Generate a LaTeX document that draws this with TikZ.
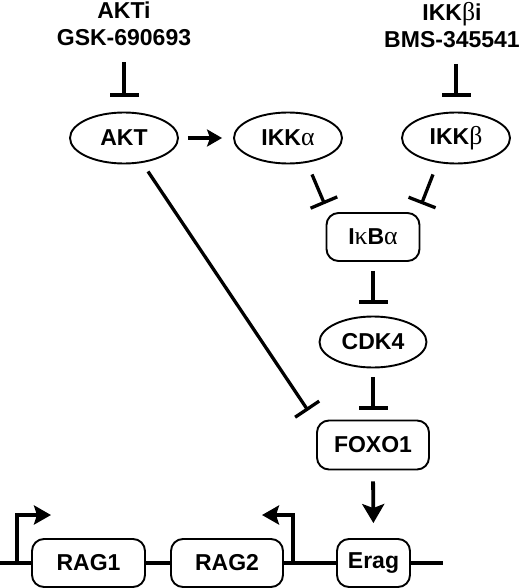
\documentclass[tikz,border=0pt]{standalone}
\usepackage{fontspec}
\setmainfont{Liberation Sans}
\newfontfamily\grk[Scale=1.12]{Liberation Serif}
\usetikzlibrary{arrows.meta,shapes.geometric,calc}
\newcommand{\gr}[1]{{\grk\mdseries #1}}
\begin{document}
\begin{tikzpicture}[x=1pt,y=-1pt,
  every node/.style={font=\fontsize{23}{27}\selectfont\bfseries, inner sep=0pt},
  oval/.style={ellipse, draw, line width=1.9pt, minimum width=108pt, minimum height=51pt},
  rbox/.style={draw, line width=1.9pt, rounded corners=12pt, minimum height=48pt},
  inh/.style={line width=3.3pt, -{Bar[width=29pt,line width=3.3pt]}},
  act/.style={line width=3.6pt, -{Stealth[length=15pt,width=17pt,inset=3pt]}},
  bigact/.style={line width=3.8pt, -{Stealth[length=19pt,width=22pt,inset=4pt]}},
  dna/.style={line width=3.6pt},
  prom/.style={line width=3.6pt, -{Stealth[length=17pt,width=19pt,inset=3pt]}}
]
\path[use as bounding box] (0,0) rectangle (520,588);

\node[align=center, anchor=north] (akti) at (124,2) {AKTi\\GSK-690693};
\node[align=center, anchor=north] (ikkbi) at (452,2) {IKK\gr{β}i\\BMS-345541};

\node[oval] (akt) at (124,138) {AKT};
\node[oval] (ikka) at (288,138) {IKK\gr{α}};
\node[oval] (ikkb) at (456,138) {IKK\gr{β}};

\node[rbox, minimum width=93pt] (ikba) at (373,237) {I\gr{κ}B\gr{α}};
\node[oval, minimum width=107pt] (cdk) at (373,342) {CDK4};
\node[rbox, minimum width=112pt, minimum height=49pt] (foxo) at (373,445) {FOXO1};

\node[rbox, minimum width=113pt] (rag1) at (88.5,563) {RAG1};
\node[rbox, minimum width=112pt] (rag2) at (227,563) {RAG2};
\node[rbox, minimum width=73pt] (erag) at (373.5,563) {Erag};

\coordinate (dl) at (0,563);
\coordinate (dr) at (443,563);
\coordinate (p1) at (17,563);
\coordinate (p1t) at (17,515);
\coordinate (p1e) at (51,515);
\coordinate (p2) at (293,563);
\coordinate (p2t) at (293,515);
\coordinate (p2e) at (262,515);

% inhibitors from drugs
\draw[inh, shorten <=16pt, shorten >=15pt] (akti.south -| akt.north) -- (akt.north);
\draw[inh, shorten <=16pt, shorten >=15pt] (ikkbi.south -| ikkb.north) -- (ikkb.north);

% AKT -> IKKa
\draw[act, shorten <=9pt, shorten >=11pt] (akt.east) -- (ikka.west);

% IKKa, IKKb -| IkBa
\draw[inh] ($(ikka.south)+(24,10)$) -- ($(ikba.north west)+(-1,-8)$);
\draw[inh] ($(ikkb.south)+(-23,10)$) -- ($(ikba.north east)+(1,-8)$);

% IkBa -| CDK4 -| FOXO1
\draw[inh, shorten <=9pt, shorten >=12pt] (ikba.south) -- (cdk.north);
\draw[inh, shorten <=9pt, shorten >=10pt] (cdk.south) -- (foxo.north);

% AKT -| FOXO1
\draw[inh] ($(akt.south)+(24,7)$) -- ($(foxo.north west)+(-8,-9)$);

% FOXO1 -> Erag
\draw[bigact, shorten <=11pt, shorten >=15pt] (foxo.south) -- (erag.north);

% DNA
\draw[dna] (dl) -- (rag1.west);
\draw[dna] (rag1.east) -- (rag2.west);
\draw[dna] (rag2.east) -- (erag.west);
\draw[dna] (erag.east) -- (dr);
\draw[prom] (p1) -- (p1t) -- (p1e);
\draw[prom] (p2) -- (p2t) -- (p2e);
\end{tikzpicture}
\end{document}
